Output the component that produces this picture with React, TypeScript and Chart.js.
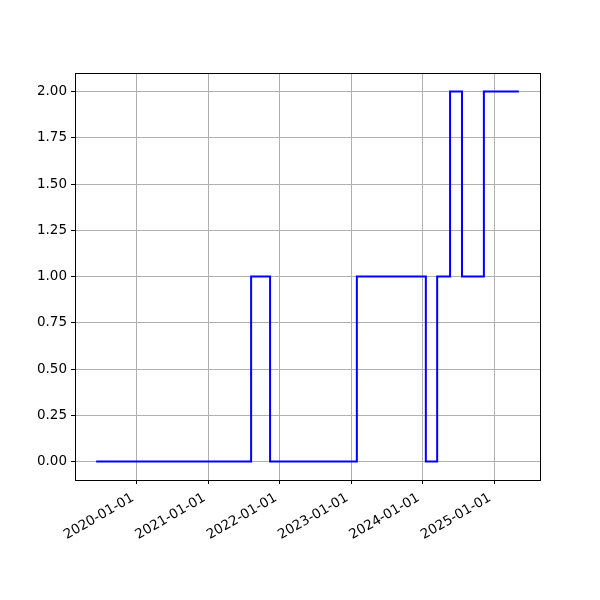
import React, { useEffect, useRef } from "react";
import { Chart, registerables } from "chart.js";

Chart.register(...registerables);

const stepDates = [
  "2019-06-06",
  "2021-08-07",
  "2021-11-12",
  "2023-01-30",
  "2024-01-18",
  "2024-03-16",
  "2024-05-21",
  "2024-07-21",
  "2024-11-10",
  "2025-05-08",
];
const stepValues = [0, 1, 0, 1, 0, 1, 2, 1, 2, 2];
const yTickValues = [0, 0.25, 0.5, 0.75, 1.0, 1.25, 1.5, 1.75, 2.0];
const xTickDates = [
  "2020-01-01",
  "2021-01-01",
  "2022-01-01",
  "2023-01-01",
  "2024-01-01",
  "2025-01-01",
];

const FONT = { family: "'DejaVu Sans', sans-serif", size: 13.5 };

function fmtDate(ms: number): string {
  const d = new Date(ms);
  const y = d.getUTCFullYear();
  const m = String(d.getUTCMonth() + 1).padStart(2, "0");
  const day = String(d.getUTCDate()).padStart(2, "0");
  return `${y}-${m}-${day}`;
}

export default function App() {
  const ref = useRef<HTMLCanvasElement | null>(null);

  useEffect(() => {
    if (!ref.current) return;
    const points = stepDates.map((d, i) => ({ x: Date.parse(d + "T00:00:00Z"), y: stepValues[i] }));
    const xs = points.map((p) => p.x);
    const xMinData = Math.min(...xs);
    const xMaxData = Math.max(...xs);
    const span = xMaxData - xMinData;
    const ys = stepValues;
    const yMinData = Math.min(...ys);
    const yMaxData = Math.max(...ys);
    const ySpan = yMaxData - yMinData;

    const frame = {
      id: "frame",
      afterDraw(chart: any) {
        const { ctx, chartArea } = chart;
        ctx.save();
        ctx.strokeStyle = "#000";
        ctx.lineWidth = 1;
        ctx.strokeRect(
          Math.round(chartArea.left) + 0.5,
          Math.round(chartArea.top) + 0.5,
          Math.round(chartArea.right - chartArea.left),
          Math.round(chartArea.bottom - chartArea.top)
        );
        ctx.restore();
      },
    };

    const chart = new Chart(ref.current, {
      type: "line",
      data: {
        datasets: [
          {
            data: points,
            borderColor: "#0000ff",
            borderWidth: 2,
            pointRadius: 0,
            stepped: "before",
            fill: false,
            tension: 0,
          },
        ],
      },
      options: {
        animation: false,
        responsive: false,
        devicePixelRatio: 1,
        layout: { padding: { left: 0, top: 73, right: 60, bottom: 0 } },
        plugins: { legend: { display: false }, tooltip: { enabled: false } },
        scales: {
          x: {
            type: "linear",
            min: xMinData - 0.05 * span,
            max: xMaxData + 0.05 * span,
            afterBuildTicks: (scale: any) => {
              scale.ticks = xTickDates.map((d) => ({ value: Date.parse(d + "T00:00:00Z") }));
            },
            afterFit: (scale: any) => {
              scale.height = 120;
            },
            ticks: {
              autoSkip: false,
              minRotation: 30,
              maxRotation: 30,
              color: "#000",
              font: FONT,
              padding: 6,
              labelOffset: -4,
              callback: (v: any) => fmtDate(Number(v)),
            },
            grid: {
              color: "#b0b0b0",
              lineWidth: 1,
              tickColor: "#000",
              tickLength: 4,
              drawTicks: true,
            },
            border: { display: false },
          },
          y: {
            type: "linear",
            min: yMinData - 0.05 * ySpan,
            max: yMaxData + 0.05 * ySpan,
            afterBuildTicks: (scale: any) => {
              scale.ticks = yTickValues.map((v) => ({ value: v }));
            },
            afterFit: (scale: any) => {
              scale.width = 75;
            },
            ticks: {
              color: "#000",
              font: FONT,
              padding: 4,
              callback: (v: any) => Number(v).toFixed(2),
            },
            grid: {
              color: "#b0b0b0",
              lineWidth: 1,
              tickColor: "#000",
              tickLength: 4,
              drawTicks: true,
            },
            border: { display: false },
          },
        },
      },
      plugins: [frame],
    } as any);

    return () => chart.destroy();
  }, []);

  return (
    <div style={{ position: "fixed", left: 0, top: 0, width: 600, height: 600, background: "#fff" }}>
      <canvas ref={ref} width={600} height={600} style={{ width: 600, height: 600 }} />
    </div>
  );
}
